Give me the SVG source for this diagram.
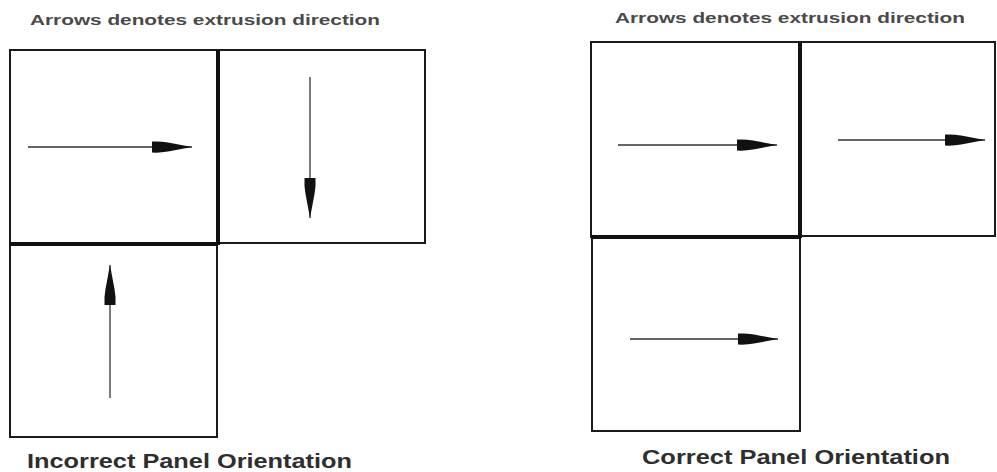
<svg xmlns="http://www.w3.org/2000/svg" width="997" height="472" viewBox="0 0 997 472">
<style>
.bg{fill:#ffffff}
.panel{fill:#ffffff;stroke:#1a1a1a;stroke-width:2}
.seam{stroke:#111111;stroke-width:4;fill:none}
.arrow{stroke:#333333;stroke-width:1.3;fill:none;marker-end:url(#head)}
.note{font-family:"Liberation Sans",Arial,sans-serif;font-weight:bold;font-size:15px;fill:#4a4a4a}
.caption{font-family:"Liberation Sans",Arial,sans-serif;font-weight:bold;font-size:20px;fill:#2e2e2e}
</style>
<defs>
<marker id="head" viewBox="0 0 40 12" refX="40" refY="6" markerWidth="40" markerHeight="12" markerUnits="userSpaceOnUse" orient="auto">
<path d="M0,0.5 Q8,0 16,1.5 L40,6 L16,10.5 Q8,12 0,11.5 Z" fill="#111111"/>
</marker>
</defs>
<rect class="bg" x="0" y="0" width="997" height="472"/>

<g id="incorrect">
<text class="note" x="30" y="25" textLength="350" lengthAdjust="spacingAndGlyphs">Arrows denotes extrusion direction</text>
<g id="inc-panel-1"><rect class="panel" x="10" y="50" width="208" height="194"/></g>
<g id="inc-panel-2"><rect class="panel" x="218" y="50" width="207" height="193"/></g>
<g id="inc-panel-3"><rect class="panel" x="10" y="244" width="207" height="193"/></g>
<path class="seam" d="M218,50 V245 M10,244 H218"/>
<text class="caption" x="27" y="468" textLength="325" lengthAdjust="spacingAndGlyphs">Incorrect Panel Orientation</text>
</g>

<g id="correct">
<text class="note" x="615" y="23" textLength="350" lengthAdjust="spacingAndGlyphs">Arrows denotes extrusion direction</text>
<g id="cor-panel-1"><rect class="panel" x="591" y="42" width="209" height="195"/></g>
<g id="cor-panel-2"><rect class="panel" x="800" y="42" width="195" height="194"/></g>
<g id="cor-panel-3"><rect class="panel" x="592" y="237" width="208" height="194"/></g>
<path class="seam" d="M800,42 V238 M591,237 H801"/>
<text class="caption" x="642" y="464" textLength="308" lengthAdjust="spacingAndGlyphs">Correct Panel Orientation</text>
</g>

<g id="arrows">
<line class="arrow" x1="28" y1="147" x2="192" y2="147"/>
<line class="arrow" x1="310" y1="77" x2="310" y2="218"/>
<line class="arrow" x1="110" y1="398" x2="110" y2="265"/>
<line class="arrow" x1="618" y1="145" x2="777" y2="145"/>
<line class="arrow" x1="838" y1="140" x2="985" y2="140"/>
<line class="arrow" x1="630" y1="339" x2="778" y2="339"/>
</g>
</svg>
